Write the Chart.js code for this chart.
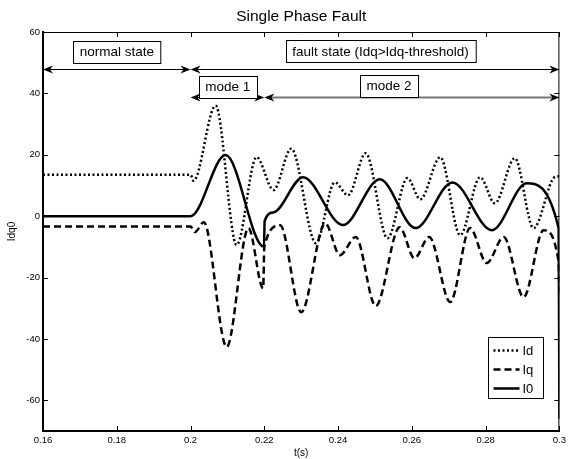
<!DOCTYPE html>
<html>
<head>
<meta charset="utf-8">
<title>Single Phase Fault</title>
<script src="https://cdn.jsdelivr.net/npm/chart.js@4.4.0/dist/chart.umd.min.js"></script>
<style>
  html, body { margin: 0; padding: 0; background: #fff; }
  #wrap { width: 570px; height: 459px; }
</style>
</head>
<body>
<div id="wrap"><canvas id="faultChart"></canvas></div>
<script>
// values
const idT = [0.16, 0.2, 0.2008, 0.2068, 0.2125, 0.2179, 0.2225, 0.2273, 0.234, 0.2391, 0.2427, 0.2475, 0.2534, 0.2588, 0.2623, 0.2677, 0.2731, 0.2785, 0.2825, 0.2879, 0.293, 0.2987, 0.3];
const idV = [13.5, 13.5, 11.5, 36, -9.4, 19.2, 8.5, 22, -8.8, 11, 6.8, 20.5, -7.2, 12.4, 5.5, 19.2, -6.2, 12.7, 4.2, 18.9, -3.9, 12.7, 13];

const iqT = [0.16, 0.2, 0.2012, 0.2036, 0.2098, 0.2157, 0.2197, 0.22, 0.2243, 0.23, 0.2365, 0.2405, 0.2448, 0.2502, 0.2567, 0.2607, 0.2647, 0.2704, 0.2758, 0.2803, 0.2849, 0.2903, 0.2957, 0.2998, 0.3];
const iqV = [-3.4, -3.4, -5.2, -2, -42.6, -3.9, -23.5, -10, -3, -31.3, -2.3, -12.7, -6.8, -29.3, -3.6, -13.7, -6.8, -28, -3.9, -15.3, -6.8, -26.4, -4.6, -15, -25];

const i0T = [0.16, 0.2, 0.2095, 0.2199, 0.2201, 0.2225, 0.2305, 0.2413, 0.2513, 0.261, 0.271, 0.2817, 0.2911, 0.2998, 0.3];
const i0V = [0, 0, 19.9, -10, -1.5, 1.2, 12.7, -2.9, 12, -3.9, 11, -4.6, 10.7, -4, -66];

const xTicks = [0.16, 0.18, 0.2, 0.22, 0.24, 0.26, 0.28, 0.3];
const yTicks = [-60, -40, -20, 0, 20, 40, 60];

const arrows = [
    { from: 0.16, to: 0.2, y: 47.8 },
    { from: 0.2, to: 0.3, y: 47.8 },
    { from: 0.2, to: 0.22, y: 38.8 },
    { from: 0.22, to: 0.3, y: 38.8, gray: true }
];
const notes = [
    { text: "normal state", t: 0.18, y: 53.6 },
    { text: "fault state (Idq>Idq-threshold)", t: 0.2515, y: 53.7 },
    { text: "mode 1", t: 0.2101, y: 42.2 },
    { text: "mode 2", t: 0.2538, y: 42.5 }
];

const FONT = "'Liberation Sans', Arial, sans-serif";

function toPoints(ts, vs) {
    return ts.map((t, i) => ({ x: t, y: vs[i] }));
}

//frame on top and right, ticks pointing inwards
const framePlugin = {
    id: 'frame',
    afterDraw(chart) {
        const { ctx, chartArea: a, scales: { x, y } } = chart;
        ctx.save();
        ctx.strokeStyle = '#000';
        ctx.lineWidth = 1;
        ctx.beginPath();
        ctx.moveTo(a.left, a.top + 0.5);
        ctx.lineTo(a.right, a.top + 0.5);
        ctx.moveTo(a.right - 0.5, a.top);
        ctx.lineTo(a.right - 0.5, a.bottom);
        x.ticks.forEach(tk => {
            const px = Math.round(x.getPixelForValue(tk.value)) + 0.5;
            ctx.moveTo(px, a.bottom);
            ctx.lineTo(px, a.bottom - 5);
            ctx.moveTo(px, a.top);
            ctx.lineTo(px, a.top + 5);
        });
        y.ticks.forEach(tk => {
            const py = Math.round(y.getPixelForValue(tk.value)) + 0.5;
            ctx.moveTo(a.left, py);
            ctx.lineTo(a.left + 5, py);
            ctx.moveTo(a.right, py);
            ctx.lineTo(a.right - 5, py);
        });
        ctx.stroke();

        // title, centred over the plot area
        ctx.fillStyle = '#000';
        ctx.font = `15.5px ${FONT}`;
        ctx.textAlign = 'center';
        ctx.textBaseline = 'middle';
        ctx.fillText("Single Phase Fault", (a.left + a.right) / 2, 17);
        ctx.restore();
    }
};

function arrowHead(ctx, x, y, dir) {
    // dir = -1 points left, 1 points right
    ctx.beginPath();
    ctx.moveTo(x, y);
    ctx.lineTo(x - dir * 10, y - 4);
    ctx.lineTo(x - dir * 7, y);
    ctx.lineTo(x - dir * 10, y + 4);
    ctx.closePath();
    ctx.fill();
}

//arrows and text boxes
const notesPlugin = {
    id: 'notes',
    afterDatasetsDraw(chart) {
        const { ctx, scales: { x, y } } = chart;
        ctx.save();
        arrows.forEach(ar => {
            const x1 = x.getPixelForValue(ar.from);
            const x2 = x.getPixelForValue(ar.to);
            const py = Math.round(y.getPixelForValue(ar.y)) + 0.5;
            ctx.strokeStyle = ar.gray ? '#777' : '#000';
            ctx.lineWidth = ar.gray ? 2 : 1;
            ctx.beginPath();
            ctx.moveTo(x1 + 6, py);
            ctx.lineTo(x2 - 6, py);
            ctx.stroke();
            ctx.fillStyle = '#000';
            arrowHead(ctx, x1, py, -1);
            arrowHead(ctx, x2, py, 1);
        });
        ctx.font = `13.5px ${FONT}`;
        ctx.textAlign = 'center';
        ctx.textBaseline = 'middle';
        notes.forEach(n => {
            const cx = x.getPixelForValue(n.t);
            const cy = y.getPixelForValue(n.y);
            const w = ctx.measureText(n.text).width + 13;
            const h = 22;
            const bx = Math.round(cx - w / 2) + 0.5;
            const by = Math.round(cy - h / 2) + 0.5;
            ctx.fillStyle = '#fff';
            ctx.fillRect(bx, by, w, h);
            ctx.strokeStyle = '#000';
            ctx.lineWidth = 1;
            ctx.strokeRect(bx, by, w, h);
            ctx.fillStyle = '#000';
            ctx.fillText(n.text, cx, cy + 1);
        });
        ctx.restore();
    }
};

//legend box in the lower right corner
const legendPlugin = {
    id: 'boxLegend',
    afterDraw(chart) {
        const { ctx, chartArea: a } = chart;
        const left = Math.round(a.right - 71) + 0.5;
        const top = Math.round(a.bottom - 94) + 0.5;
        ctx.save();
        ctx.fillStyle = '#fff';
        ctx.fillRect(left, top, 55, 61);
        ctx.strokeStyle = '#000';
        ctx.lineWidth = 1;
        ctx.strokeRect(left, top, 55, 61);
        ctx.font = `13px ${FONT}`;
        ctx.textBaseline = 'middle';
        ctx.textAlign = 'left';
        chart.data.datasets.forEach((ds, i) => {
            const yy = top + 13 + i * 19;
            ctx.beginPath();
            ctx.setLineDash(ds.borderDash || []);
            ctx.lineWidth = ds.borderWidth;
            ctx.strokeStyle = '#000';
            ctx.moveTo(left + 5, yy);
            ctx.lineTo(left + 31, yy);
            ctx.stroke();
            ctx.setLineDash([]);
            ctx.fillStyle = '#000';
            ctx.fillText(ds.label, left + 34, yy + 1);
        });
        ctx.restore();
    }
};

let chart = new Chart(document.getElementById("faultChart").getContext("2d"), {
    type: 'scatter',
    data: {
        datasets: [{
            label: 'Id',
            data: toPoints(idT, idV),
            borderColor: '#000',
            borderWidth: 2.5,
            borderDash: [2, 2.5],
            borderCapStyle: 'butt'
        }, {
            label: 'Iq',
            data: toPoints(iqT, iqV),
            borderColor: '#000',
            borderWidth: 2.5,
            borderDash: [7, 4]
        }, {
            label: 'I0',
            data: toPoints(i0T, i0V),
            borderColor: '#000',
            borderWidth: 2.5
        }]
    },
    options: {
        responsive: true,
        maintainAspectRatio: false,
        animation: false,
        showLine: true,
        elements: {
            point: { radius: 0, hoverRadius: 0 },
            line: { cubicInterpolationMode: 'monotone', fill: false }
        },
        layout: { padding: { top: 32, right: 7, left: 0, bottom: 0 } },
        plugins: {
            legend: { display: false },
            title: { display: false },
            tooltip: { enabled: false }
        },
        scales: {
            x: {
                type: 'linear',
                min: 0.16,
                max: 0.3,
                afterFit: s => { s.height = 28; },
                afterBuildTicks: s => { s.ticks = xTicks.map(v => ({ value: v })); },
                grid: { drawOnChartArea: false, drawTicks: false },
                border: { display: true, color: '#000', width: 2 },
                ticks: {
                    color: '#000',
                    padding: 4,
                    maxRotation: 0,
                    font: { family: FONT, size: 9.5 },
                    callback: v => String(Math.round(v * 100) / 100)
                },
                title: {
                    display: true,
                    text: 't(s)',
                    color: '#000',
                    padding: { top: 0, bottom: 0 },
                    font: { family: FONT, size: 10 }
                }
            },
            y: {
                min: -70,
                max: 60,
                afterFit: s => { s.width = 43; },
                afterBuildTicks: s => { s.ticks = yTicks.map(v => ({ value: v })); },
                grid: { drawOnChartArea: false, drawTicks: false },
                border: { display: true, color: '#000', width: 2 },
                ticks: {
                    color: '#000',
                    padding: 3,
                    font: { family: FONT, size: 9.5 }
                },
                title: {
                    display: true,
                    text: 'Idq0',
                    color: '#000',
                    padding: { top: 6, bottom: 0 },
                    font: { family: FONT, size: 10 }
                }
            }
        }
    },
    plugins: [framePlugin, notesPlugin, legendPlugin]
});
</script>
</body>
</html>
